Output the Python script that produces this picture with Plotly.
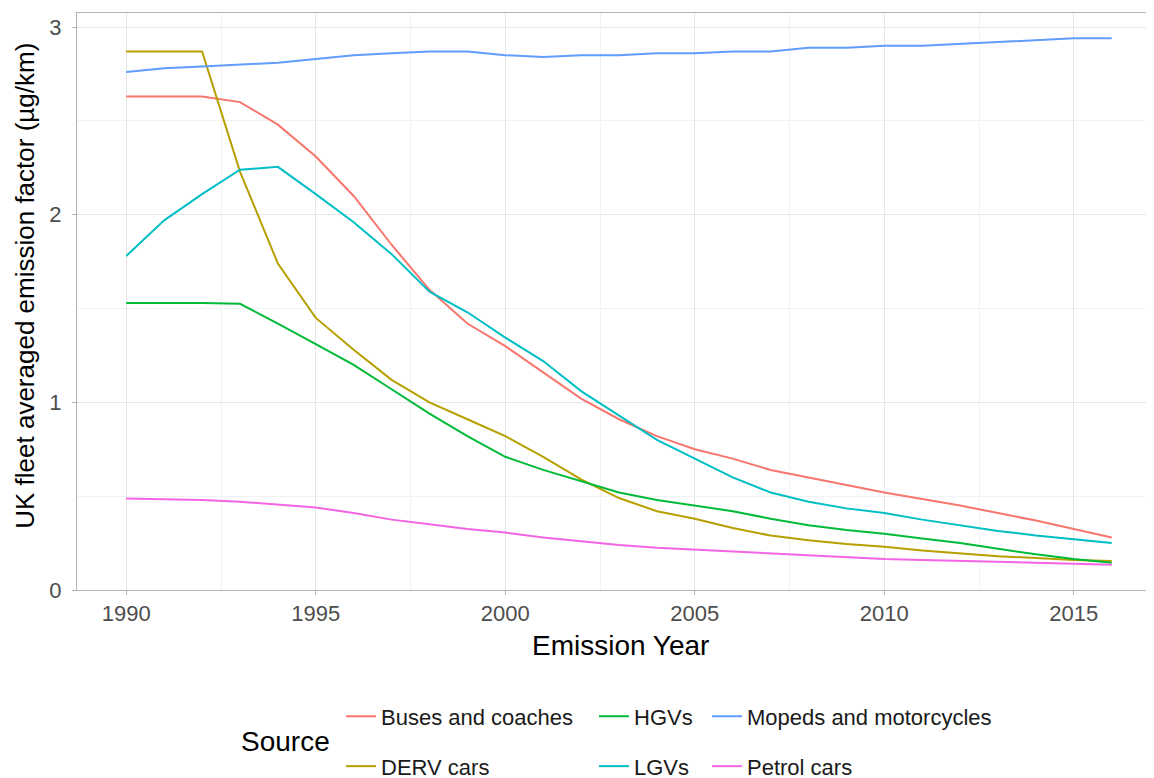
import plotly.graph_objects as go

years = list(range(1990, 2017))

buses = [2.63, 2.63, 2.63, 2.60, 2.48, 2.31, 2.10, 1.84, 1.60, 1.42, 1.30, 1.16, 1.02, 0.91, 0.82,
         0.75, 0.70, 0.64, 0.60, 0.56, 0.52, 0.485, 0.45, 0.41, 0.37, 0.325, 0.28]
derv = [2.87, 2.87, 2.87, 2.23, 1.74, 1.45, 1.28, 1.12, 1.00, 0.91, 0.82, 0.71, 0.59, 0.49, 0.42,
        0.38, 0.33, 0.29, 0.265, 0.245, 0.23, 0.21, 0.195, 0.18, 0.17, 0.16, 0.155]
hgvs = [1.53, 1.53, 1.53, 1.525, 1.42, 1.31, 1.20, 1.07, 0.94, 0.82, 0.71, 0.64, 0.58, 0.52, 0.48,
        0.45, 0.42, 0.38, 0.345, 0.32, 0.30, 0.275, 0.25, 0.22, 0.19, 0.165, 0.145]
lgvs = [1.78, 1.97, 2.11, 2.24, 2.255, 2.11, 1.96, 1.79, 1.59, 1.48, 1.345, 1.22, 1.06, 0.93, 0.80,
        0.70, 0.60, 0.52, 0.47, 0.435, 0.41, 0.375, 0.345, 0.315, 0.29, 0.27, 0.25]
mopeds = [2.76, 2.78, 2.79, 2.80, 2.81, 2.83, 2.85, 2.86, 2.87, 2.87, 2.85, 2.84, 2.85, 2.85, 2.86,
          2.86, 2.87, 2.87, 2.89, 2.89, 2.90, 2.90, 2.91, 2.92, 2.93, 2.94, 2.94]
petrol = [0.487, 0.485, 0.48, 0.47, 0.455, 0.44, 0.41, 0.375, 0.35, 0.325, 0.306, 0.28, 0.26, 0.24, 0.225,
          0.215, 0.205, 0.195, 0.185, 0.175, 0.165, 0.16, 0.155, 0.15, 0.145, 0.14, 0.135]

series_names = ["Buses and coaches", "DERV cars", "HGVs", "LGVs", "Mopeds and motorcycles", "Petrol cars"]
series_values = [buses, derv, hgvs, lgvs, mopeds, petrol]
colors = ["#F8766D", "#B79F00", "#00BA38", "#00BFC4", "#619CFF", "#F564E3"]

x_ticks = [1990, 1995, 2000, 2005, 2010, 2015]
y_ticks = [0, 1, 2, 3]

# page body has an 8px margin; work in screen pixels and convert
OFF = 8
W, H = 1154, 778
L, R, T, B = 77 - OFF, 1, 13 - OFF, H - (590.5 - OFF)
pw = W - L - R
ph = H - T - B

def px2x(px):
    return (px - OFF - L) / pw

def py2y(py):
    return (H - B - (py - OFF)) / ph

FONT = "Liberation Sans, Arial, sans-serif"

# legend layout: column-wise like ggplot (col1: Buses, DERV; col2: HGVs, LGVs; col3: Mopeds, Petrol)
leg_cols_px = [341, 594, 707]
leg_rows_px = [717, 767]
legend_ids = ["legend", "legend2", "legend3", "legend4", "legend5", "legend6"]

fig = go.Figure()
layout_legends = {}
for i, (name, vals, col) in enumerate(zip(series_names, series_values, colors)):
    lid = legend_ids[i]
    fig.add_trace(go.Scatter(
        x=years, y=vals, mode="lines", name=name,
        line=dict(color=col, width=2),
        legend=lid,
    ))
    c, r = divmod(i, 2)
    layout_legends[lid] = dict(
        x=px2x(leg_cols_px[c]), y=py2y(leg_rows_px[r]),
        xanchor="left", yanchor="middle",
        bgcolor="rgba(0,0,0,0)", borderwidth=0,
        font=dict(family=FONT, size=22, color="#1a1a1a"),
        orientation="v",
    )

fig.update_layout(
    width=W, height=H,
    margin=dict(l=L, r=R, t=T, b=B, autoexpand=False),
    paper_bgcolor="white", plot_bgcolor="white",
    font=dict(family=FONT),
    showlegend=True,
    **layout_legends,
)

fig.add_annotation(
    text="Source", x=px2x(285), y=py2y(742), xref="paper", yref="paper",
    xanchor="center", yanchor="middle", showarrow=False,
    font=dict(family=FONT, size=28, color="black"),
)
fig.add_annotation(
    text="Emission Year", x=px2x(620), y=py2y(646), xref="paper", yref="paper",
    xanchor="center", yanchor="middle", showarrow=False,
    font=dict(family=FONT, size=28, color="black"),
)
fig.add_annotation(
    text="UK fleet averaged emission factor (µg/km)", x=px2x(25), y=py2y(286),
    xref="paper", yref="paper", textangle=-90,
    xanchor="center", yanchor="middle", showarrow=False,
    font=dict(family=FONT, size=26, color="black"),
)

fig.update_xaxes(
    range=[1988.7, 2017.3],
    tickvals=x_ticks, ticktext=[str(v) for v in x_ticks],
    showgrid=True, gridcolor="#e6e6e6", gridwidth=1,
    minor=dict(dtick=2.5, tick0=1987.5, showgrid=True, gridcolor="#f2f2f2", gridwidth=1),
    zeroline=False, automargin=False,
    showline=True, linecolor="#b3b3b3", linewidth=1, mirror=True,
    ticks="outside", ticklen=4, tickcolor="#b3b3b3",
    tickfont=dict(size=22, color="#4d4d4d"),
)
fig.update_yaxes(
    range=[0, 3.075],
    tickvals=y_ticks, ticktext=[str(v) for v in y_ticks],
    showgrid=True, gridcolor="#e6e6e6", gridwidth=1,
    minor=dict(dtick=0.5, tick0=0, showgrid=True, gridcolor="#f2f2f2", gridwidth=1),
    zeroline=False, automargin=False,
    showline=True, linecolor="#b3b3b3", linewidth=1,
    ticks="outside", ticklen=4, tickcolor="#b3b3b3",
    tickfont=dict(size=22, color="#4d4d4d"),
    ticklabelstandoff=6,
)

fig.write_html("out.html")
